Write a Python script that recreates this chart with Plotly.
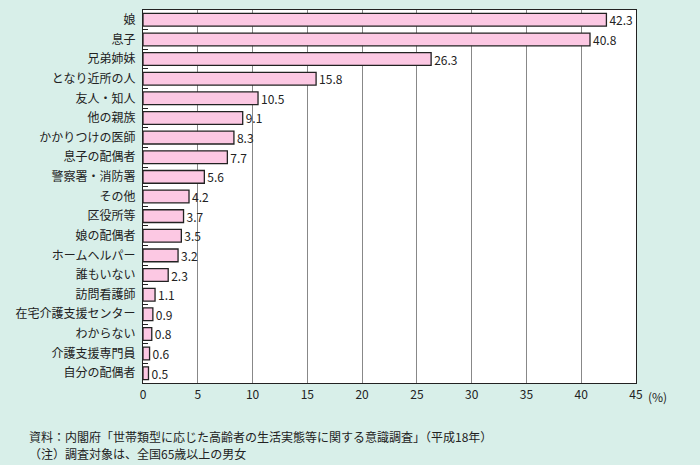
import plotly.graph_objects as go

categories = ["娘", "息子", "兄弟姉妹", "となり近所の人", "友人・知人", "他の親族", "かかりつけの医師",
              "息子の配偶者", "警察署・消防署", "その他", "区役所等", "娘の配偶者", "ホームヘルパー",
              "誰もいない", "訪問看護師", "在宅介護支援センター", "わからない", "介護支援専門員", "自分の配偶者"]
values = [42.3, 40.8, 26.3, 15.8, 10.5, 9.1, 8.3, 7.7, 5.6, 4.2, 3.7, 3.5, 3.2, 2.3, 1.1, 0.9, 0.8, 0.6, 0.5]
x_ticks = [0, 5, 10, 15, 20, 25, 30, 35, 40, 45]

FONT = "Noto Sans CJK JP"
BG = "#d8efe9"
PLOT_W = 700 - 143 - 64

fig = go.Figure(go.Bar(
    x=values, y=categories, orientation="h",
    marker=dict(color="#fcc8e3", line=dict(color="#222222", width=1.3)),
    text=[f"{v:.1f}" for v in values], textposition="outside", constraintext="none",
    textfont=dict(family=FONT, size=12, color="#222222"),
    cliponaxis=False,
))

fig.update_layout(
    width=700, height=465,
    margin=dict(l=143, r=64, t=10, b=82),
    paper_bgcolor=BG, plot_bgcolor="white",
    bargap=0.35, showlegend=False,
    font=dict(family=FONT, size=12, color="#222222"),
    xaxis=dict(range=[0, 45], tickvals=x_ticks, showgrid=True, gridcolor="#888888", gridwidth=1,
               zeroline=False, showline=True, linecolor="#222222", linewidth=1.3, mirror=True,
               ticks="", tickfont=dict(size=12, color="#222222")),
    yaxis=dict(categoryorder="array", categoryarray=categories[::-1], showgrid=False,
               showline=True, linecolor="#222222", linewidth=1.3, mirror=True,
               ticks="inside", tickson="boundaries", ticklen=5, tickcolor="#222222",
               ticklabelstandoff=4,
               tickfont=dict(size=12, color="#222222")),
    annotations=[
        dict(text="(%)", xref="paper", yref="paper", x=1.0, y=0, xanchor="left", yanchor="top",
             xshift=10, yshift=-3, showarrow=False, font=dict(size=12, color="#222222")),
        dict(text="資料：内閣府「世帯類型に応じた高齢者の生活実態等に関する意識調査」（平成18年）",
             xref="paper", yref="paper", x=(27 - 143) / PLOT_W, y=0, xanchor="left", yanchor="middle",
             yshift=-(436 - 383), showarrow=False, font=dict(size=12, color="#222222")),
        dict(text="（注）調査対象は、全国65歳以上の男女",
             xref="paper", yref="paper", x=(27 - 143) / PLOT_W, y=0, xanchor="left", yanchor="middle",
             yshift=-(453 - 383), showarrow=False, font=dict(size=12, color="#222222")),
    ],
)

fig.write_html("out.html")
